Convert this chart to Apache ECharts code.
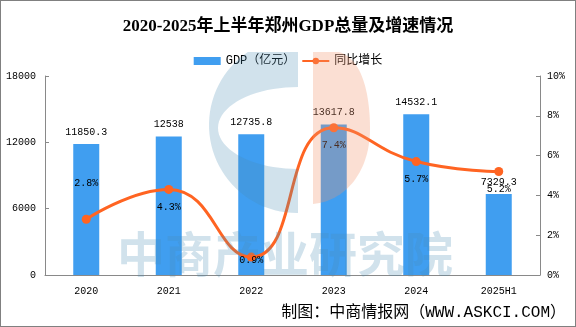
<!DOCTYPE html>
<html>
<head>
<meta charset="utf-8">
<script src="https://cdn.jsdelivr.net/npm/echarts@6/dist/echarts.min.js"></script>
<style>
html,body{margin:0;padding:0;background:#fff;}
#chart{width:576px;height:327px;box-sizing:border-box;border:1px solid #808080;}
</style>
</head>
<body>
<div id="chart"></div>
<script>
var categories = ['2020', '2021', '2022', '2023', '2024', '2025H1'];
var gdpValues = [11850.3, 12538, 12735.8, 13617.8, 14532.1, 7329.3];
var growthValues = [2.8, 4.3, 0.9, 7.4, 5.7, 5.2];
var leftTicks = {min: 0, max: 18000, interval: 6000};
var rightTicks = {min: 0, max: 10, interval: 2};

var mono = "'Liberation Mono','DejaVu Sans Mono',monospace";
var cjk = "'Noto Sans CJK SC','Noto Sans',sans-serif";
var wmBlue = 'rgba(70,140,180,0.25)';
var wmOrange = 'rgba(242,150,108,0.3)';

// watermark logo outlines (decoration only)
function crescentPoints() {
  var cx = 296, cy = 124, r = 88, steps = 40;
  var pts = [[297, 51]];
  var t0 = Math.atan2(51 - cy, -Math.sqrt(r * r - (51 - cy) * (51 - cy)));
  var t1 = -3 * Math.PI / 2;
  for (var k = 0; k <= steps; k++) {
    var t = t0 + (t1 - t0) * k / steps;
    pts.push([cx + r * Math.cos(t), cy + r * Math.sin(t)]);
  }
  pts.push([297, 212]);
  pts.push([297, 168]);
  var icx = 297, icy = 127, rx = 80, ry = 41;
  for (var j = 0; j <= steps; j++) {
    var u = Math.PI / 2 + Math.PI * j / steps;
    pts.push([icx + rx * Math.cos(u), icy + ry * Math.sin(u)]);
  }
  return pts;
}
function dPoints() {
  var pts = [[312, 51], [338, 51]];
  var steps = 30;
  function bez(p0, p1, p2, p3) {
    for (var i = 1; i <= steps; i++) {
      var t = i / steps, m = 1 - t;
      pts.push([
        m*m*m*p0[0] + 3*m*m*t*p1[0] + 3*m*t*t*p2[0] + t*t*t*p3[0],
        m*m*m*p0[1] + 3*m*m*t*p1[1] + 3*m*t*t*p2[1] + t*t*t*p3[1]
      ]);
    }
  }
  bez([338, 51], [362, 58], [369, 95], [369, 128]);
  bez([369, 128], [369, 170], [345, 200], [312, 203]);
  return pts;
}

var chart = echarts.init(document.getElementById('chart'), null, {renderer: 'canvas'});

var lineData = growthValues.map(function (v, i) {
  var lbl = {position: 'bottom', distance: 8};
  if (i === 0) lbl = {position: 'top', distance: 26};
  if (i === 2) lbl = {position: 'bottom', distance: -6};
  return {value: v, label: lbl};
});

var option = {
  animation: false,
  backgroundColor: '#fff',
  title: {
    text: '2020-2025年上半年郑州GDP总量及增速情况',
    left: 'center',
    top: 12,
    textStyle: {fontFamily: "'Liberation Serif','Noto Sans CJK SC',serif", fontWeight: 'bold', fontSize: 17, color: '#000'}
  },
  legend: {
    top: 49,
    left: 'center',
    itemGap: 6,
    textStyle: {fontFamily: mono.replace('monospace', "'Noto Sans CJK SC'"), fontSize: 12, color: '#000'},
    data: [
      {name: 'GDP（亿元）', icon: 'rect'},
      {name: '同比增长'}
    ],
    itemWidth: 27,
    itemHeight: 8
  },
  grid: {left: 44, right: 35, top: 75, bottom: 51, outerBoundsMode: 'none', containLabel: false},
  xAxis: {
    type: 'category',
    data: categories,
    axisLine: {lineStyle: {color: '#898989'}},
    axisTick: {inside: true, length: 4, lineStyle: {color: '#898989'}},
    axisLabel: {fontFamily: mono, fontSize: 10, color: '#000', margin: 11}
  },
  yAxis: [
    {
      type: 'value', min: leftTicks.min, max: leftTicks.max, interval: leftTicks.interval,
      splitLine: {show: false},
      axisLine: {show: true, lineStyle: {color: '#898989'}},
      axisTick: {show: true, inside: true, length: 4, lineStyle: {color: '#898989'}},
      axisLabel: {fontFamily: mono, fontSize: 10, color: '#000', margin: 9, formatter: function (v) { return String(v); }}
    },
    {
      type: 'value', min: rightTicks.min, max: rightTicks.max, interval: rightTicks.interval,
      splitLine: {show: false},
      axisLine: {show: true, lineStyle: {color: '#898989'}},
      axisTick: {show: true, inside: true, length: 4, lineStyle: {color: '#898989'}},
      axisLabel: {fontFamily: mono, fontSize: 10, color: '#000', margin: 7, formatter: '{value}%'}
    }
  ],
  series: [
    {
      name: 'GDP（亿元）',
      type: 'bar',
      data: gdpValues,
      barWidth: 26,
      itemStyle: {color: '#409EF0'},
      label: {show: true, position: 'top', distance: 7, fontFamily: mono, fontSize: 10, color: '#000'}
    },
    {
      name: '同比增长',
      type: 'line',
      yAxisIndex: 1,
      data: lineData,
      smooth: true,
      symbol: 'circle',
      symbolSize: 9,
      lineStyle: {color: '#FF6422', width: 3},
      itemStyle: {color: '#FF6422'},
      label: {show: true, fontFamily: mono, fontSize: 10, color: '#000', formatter: '{c}%'},
      z: 3
    }
  ],
  graphic: [
    {
      type: 'polygon', z: 100, silent: true,
      shape: {points: crescentPoints()},
      style: {fill: wmBlue}
    },
    {
      type: 'polygon', z: 100, silent: true,
      shape: {points: dPoints()},
      style: {fill: wmOrange}
    },
    {
      type: 'text', z: 100, silent: true,
      left: 116, top: 229,
      style: {text: '中商产业研究院', font: 'bold 48px ' + cjk, fill: wmBlue}
    },
    {
      type: 'text', z: 101, silent: true,
      right: 9, top: 304,
      style: {text: '制图：中商情报网（WWW.ASKCI.COM）', font: "16px 'Liberation Mono','Noto Sans CJK SC',monospace", fill: '#000'}
    }
  ]
};
chart.setOption(option);
</script>
</body>
</html>
